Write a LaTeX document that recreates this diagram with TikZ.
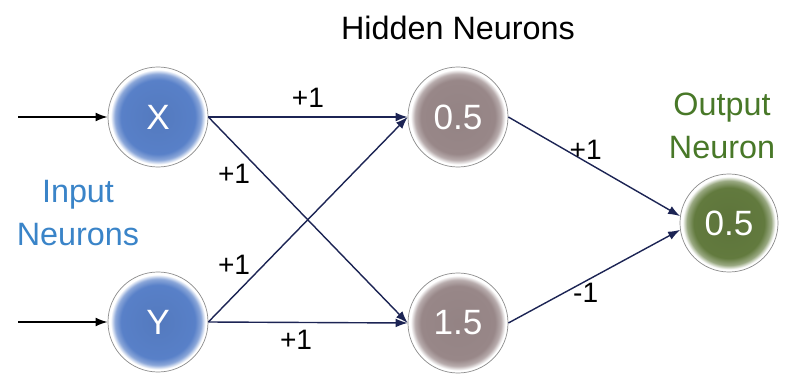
\documentclass[tikz,border=0pt]{standalone}
\usepackage{fontspec}
\setmainfont{Liberation Sans}
\usetikzlibrary{arrows.meta, positioning}

\definecolor{neuronblue}{RGB}{88,128,200}
\definecolor{neurongray}{RGB}{152,135,136}
\definecolor{neurongreen}{RGB}{98,122,62}
\definecolor{edgenavy}{RGB}{28,36,84}
\definecolor{inputtext}{RGB}{58,132,200}
\definecolor{outputtext}{RGB}{72,120,40}

\pgfdeclareradialshading{inshade}{\pgfpoint{0bp}{0bp}}{color(0bp)=(neuronblue!95!black); color(18.5bp)=(neuronblue); color(21.5bp)=(neuronblue!70!white); color(23.7bp)=(white); color(50bp)=(white)}
\pgfdeclareradialshading{hidshade}{\pgfpoint{0bp}{0bp}}{color(0bp)=(neurongray!97!black); color(18.5bp)=(neurongray); color(21.5bp)=(neurongray!70!white); color(23.7bp)=(white); color(50bp)=(white)}
\pgfdeclareradialshading{outshade}{\pgfpoint{0bp}{0bp}}{color(0bp)=(neurongreen!95!black); color(18bp)=(neurongreen); color(21.5bp)=(neurongreen!65!white); color(23.7bp)=(white); color(50bp)=(white)}

\begin{document}
\begin{tikzpicture}[
    x=0.025cm, y=-0.025cm,
    neuron/.style={circle, shade, draw=black!45, line width=0.5pt, minimum size=2.5cm, inner sep=0pt, text=white, font=\fontsize{25}{30}\selectfont},
    inneuron/.style={neuron, shading=inshade},
    hidneuron/.style={neuron, shading=hidshade},
    outneuron/.style={neuron, shading=outshade, minimum size=2.45cm},
    wire/.style={-{Latex[length=3mm, width=2.2mm]}, line width=1pt, color=edgenavy},
    feed/.style={wire, color=black},
    weight/.style={font=\fontsize{20}{24}\selectfont, inner sep=1pt, text=black},
    caption/.style={font=\fontsize{23}{31}\selectfont, align=center},
]
    \useasboundingbox (0,0) rectangle (785,374);

    % Neurons
    \node[inneuron] (x) at (158,117) {X};
    \node[inneuron] (y) at (158,322) {Y};
    \node[hidneuron] (h1) at (458,117) {0.5};
    \node[hidneuron] (h2) at (458,323) {1.5};
    \node[outneuron] (out) at (729,223) {0.5};

    % Captions
    \node[caption] (hidtitle) at (458,28) {Hidden Neurons};
    \node[caption, text=inputtext] (intitle) at (78,213) {Input\\Neurons};
    \node[caption, text=outputtext] (outtitle) at (722,126) {Output\\Neuron};

    % Inputs
    \coordinate (xin) at (18,117);
    \coordinate (yin) at (18,322);
    \draw[feed] (xin) -- (x);
    \draw[feed] (yin) -- (y);

    % Connections
    \draw[wire] (x.east) -- node[weight, above=5pt] {+1} (h1.west);
    \draw[wire] (x.east) -- node[weight, pos=0.22, anchor=north east] {+1} (h2.west);
    \draw[wire] (y.east) -- node[weight, pos=0.22, anchor=south east] {+1} (h1.west);
    \draw[wire] (y.east) -- node[weight, pos=0.44, below=4pt] {+1} (h2.west);
    \draw[wire] (h1.east) -- node[weight, pos=0.45, above] {+1} (out.172);
    \draw[wire] (h2.east) -- node[weight, pos=0.45, below] {-1} (out.188);
\end{tikzpicture}
\end{document}
